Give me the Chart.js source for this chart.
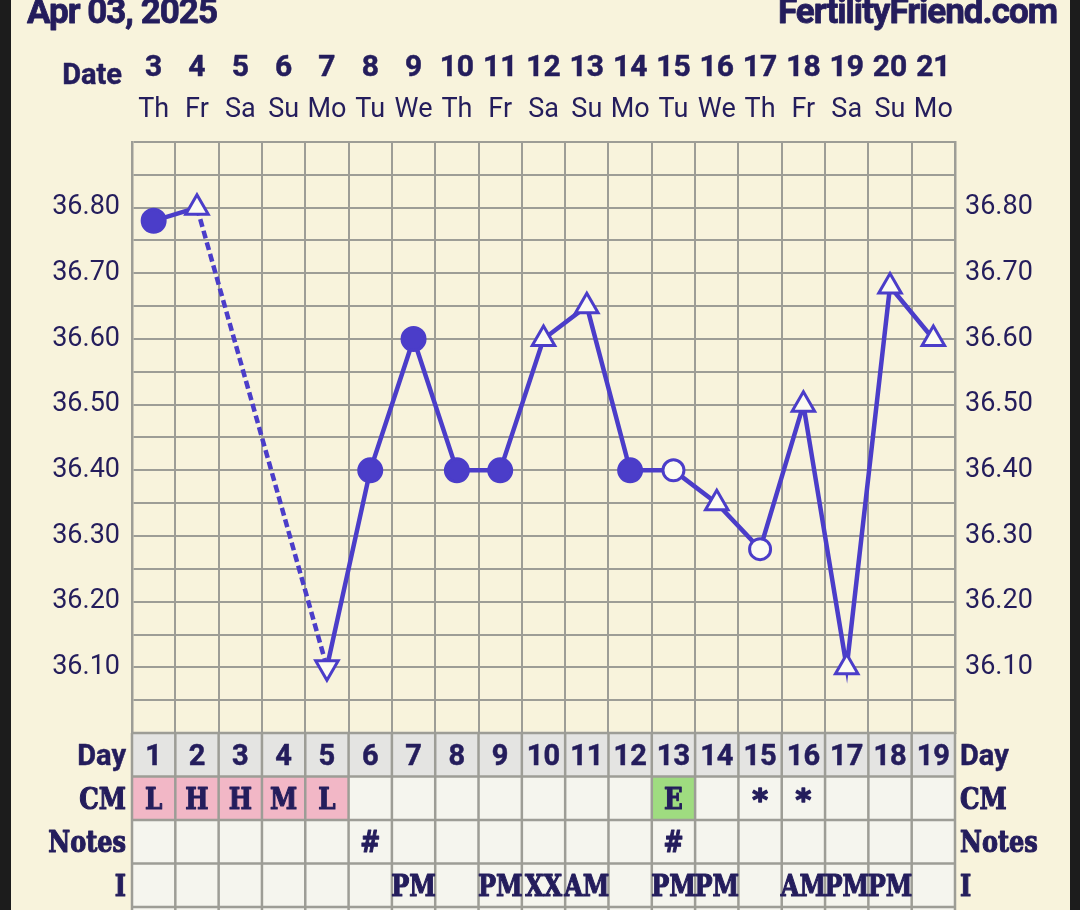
<!DOCTYPE html>
<html>
<head>
<meta charset="utf-8">
<script src="https://cdn.jsdelivr.net/npm/chart.js@4"></script>
<style>
  html, body { margin: 0; padding: 0; background: #1c1c1c; }
  canvas { display: block; }
</style>
</head>
<body>
<canvas id="bbtChart" width="1080" height="910"></canvas>
<script>
// chart data
const cycleDays = ["1", "2", "3", "4", "5", "6", "7", "8", "9", "10", "11", "12", "13", "14", "15", "16", "17", "18", "19"];
const dates = ["3", "4", "5", "6", "7", "8", "9", "10", "11", "12", "13", "14", "15", "16", "17", "18", "19", "20", "21"];
const weekdays = ["Th", "Fr", "Sa", "Su", "Mo", "Tu", "We", "Th", "Fr", "Sa", "Su", "Mo", "Tu", "We", "Th", "Fr", "Sa", "Su", "Mo"];
const temps = [36.78, 36.80, null, null, 36.10, 36.40, 36.60, 36.40, 36.40, 36.60, 36.65, 36.40, 36.40, 36.35, 36.28, 36.50, 36.10, 36.68, 36.60];
// f = normal, o = open circle, u = triangle, d = triangle down
const tempKinds = ["f", "u", "", "", "d", "f", "f", "f", "f", "u", "u", "f", "o", "u", "o", "u", "u", "u", "u"];
const cmCodes = ["L", "H", "H", "M", "L", "", "", "", "", "", "", "", "E", "", "*", "*", "", "", ""];
const notes = ["", "", "", "", "", "#", "", "", "", "", "", "", "#", "", "", "", "", "", ""];
const intercourse = ["", "", "", "", "", "", "PM", "", "PM", "XX", "AM", "", "PM", "PM", "", "AM", "PM", "PM", ""];
const tempTicks = [36.10, 36.20, 36.30, 36.40, 36.50, 36.60, 36.70, 36.80];

const CREAM = "#f8f3dc";
const INK = "#241d5c";
const LINE = "#4b3dc9";
const GRID = "#9d9d96";
const OPEN_FILL = "#fcfbf2";

const pointStyles = tempKinds.map((k) => (k === "u" || k === "d" ? "triangle" : "circle"));
const pointRotations = tempKinds.map((k) => (k === "d" ? 180 : 0));
const pointRadii = tempKinds.map((k) => (k === "u" || k === "d" ? 13 : k === "o" ? 10.5 : k === "f" ? 11.5 : 0));
const pointFills = tempKinds.map((k) => (k === "f" ? LINE : OPEN_FILL));

const drawText = (ctx, str, x, y, font, align, sx = 1, heavy = 0) => {
  ctx.save();
  ctx.font = font;
  ctx.fillStyle = INK;
  ctx.strokeStyle = INK;
  ctx.textAlign = align;
  ctx.textBaseline = "alphabetic";
  ctx.translate(x, y);
  ctx.scale(sx, 1);
  ctx.fillText(str, 0, 0);
  if (heavy) {
    ctx.lineWidth = heavy;
    ctx.lineJoin = "round";
    ctx.strokeText(str, 0, 0);
  }
  ctx.restore();
};

const SLAB = "bold 30px 'DejaVu Serif'";
const SANS_B = "bold 29px Roboto";

const skipped = (ctx, value) => (ctx.p0.skip || ctx.p1.skip ? value : undefined);

const sheet = {
  id: "sheet",
  beforeDraw(chart) {
    const ctx = chart.ctx;
    ctx.save();
    ctx.fillStyle = "#1c1c1c";
    ctx.fillRect(0, 0, chart.width, chart.height);
    ctx.fillStyle = CREAM;
    ctx.fillRect(11, 0, 1059, chart.height);
    ctx.restore();
  },
  afterDraw(chart) {
    const ctx = chart.ctx;
    const area = chart.chartArea;
    const x = chart.scales.x;
    const colW = (area.right - area.left) / cycleDays.length;

    // header
    ctx.save();
    ctx.letterSpacing = "-1px";
    drawText(ctx, "Apr 03, 2025", 27, 23, "bold 35px Roboto", "left", 1, 0.8);
    drawText(ctx, "FertilityFriend.com", 1057, 23, "bold 35px Roboto", "right", 1, 0.8);
    ctx.restore();
    drawText(ctx, "Date", 122, 84, SANS_B, "right", 1, 0.5);
    dates.forEach((d, i) => {
      const cx = x.getPixelForValue(i);
      drawText(ctx, d, cx, 76, "bold 30px Roboto", "center", 1, 0.5);
      drawText(ctx, weekdays[i], cx, 117, "27px Roboto", "center");
    });

    // table below the plot
    const rowH = 43.5;
    const rows = [
      { label: "Day", cells: cycleDays, font: SANS_B, sx: 1 },
      { label: "CM", cells: cmCodes, font: SLAB, sx: 0.82 },
      { label: "Notes", cells: notes, font: SLAB, sx: 0.8 },
      { label: "I", cells: intercourse, font: SLAB, sx: 0.8 },
      { label: "", cells: cycleDays.map(() => ""), font: SLAB, sx: 0.8 },
    ];
    const top = area.bottom;
    rows.forEach((row, r) => {
      const y0 = top + r * rowH;
      row.cells.forEach((c, i) => {
        let fill = "#f5f5ee";
        if (r === 0) fill = "#e4e4e2";
        if (r === 1 && c === "E") fill = "#9fdc80";
        else if (r === 1 && c && c !== "*") fill = "#f2b7c6";
        ctx.fillStyle = fill;
        ctx.fillRect(area.left + i * colW, y0, colW, rowH);
      });
    });
    ctx.save();
    ctx.strokeStyle = GRID;
    ctx.lineWidth = 2.5;
    ctx.beginPath();
    for (let r = 0; r <= rows.length; r++) {
      ctx.moveTo(area.left, top + r * rowH);
      ctx.lineTo(area.right, top + r * rowH);
    }
    for (let i = 0; i <= cycleDays.length; i++) {
      ctx.moveTo(area.left + i * colW, top);
      ctx.lineTo(area.left + i * colW, chart.height);
    }
    ctx.stroke();
    ctx.restore();
    rows.forEach((row, r) => {
      const base = top + r * rowH + 32;
      const heavy = r === 0 ? 0.5 : 1.2;
      if (row.label) {
        drawText(ctx, row.label, 126, base, row.font, "right", row.sx, heavy);
        drawText(ctx, row.label, 960, base, row.font, "left", row.sx, heavy);
      }
      row.cells.forEach((c, i) => {
        if (!c) return;
        const cx = x.getPixelForValue(i);
        if (c === "*") drawText(ctx, c, cx, base + 1, "bold 30px 'DejaVu Sans'", "center", 1, 1.5);
        else drawText(ctx, c, cx, base, row.font, "center", row.sx, heavy);
      });
    });
  },
};

const tickLabel = (value) => {
  const hit = tempTicks.find((t) => Math.abs(t - value) < 0.001);
  return hit === undefined ? "" : hit.toFixed(2);
};

const axisFont = { family: "Roboto", size: 27 };

new Chart(document.getElementById("bbtChart"), {
  type: "line",
  data: {
    labels: cycleDays,
    datasets: [
      {
        data: temps,
        borderColor: LINE,
        borderWidth: 4.5,
        spanGaps: true,
        segment: {
          borderDash: (ctx) => skipped(ctx, [8, 4]),
          borderWidth: (ctx) => skipped(ctx, 4.5),
        },
        pointStyle: pointStyles,
        rotation: pointRotations,
        pointRadius: pointRadii,
        pointBackgroundColor: pointFills,
        pointBorderColor: LINE,
        pointBorderWidth: 3,
      },
    ],
  },
  options: {
    responsive: false,
    devicePixelRatio: 1,
    animation: false,
    events: [],
    layout: { padding: { top: 142, bottom: 177, left: 0, right: 0 } },
    plugins: { legend: { display: false }, tooltip: { enabled: false } },
    scales: {
      x: {
        type: "category",
        offset: true,
        grid: { offset: true, color: GRID, lineWidth: 2, drawTicks: false },
        border: { color: GRID, width: 2 },
        ticks: { display: false },
        afterFit: (scale) => {
          scale.height = 0;
        },
      },
      y: {
        position: "left",
        min: 36.0,
        max: 36.9,
        grid: { color: GRID, lineWidth: 2, drawTicks: false },
        border: { color: GRID, width: 2.5 },
        ticks: { stepSize: 0.05, autoSkip: false, padding: 12, color: INK, font: axisFont, callback: tickLabel },
        afterFit: (scale) => {
          scale.width = 132;
        },
      },
      y2: {
        position: "right",
        min: 36.0,
        max: 36.9,
        grid: { display: false, drawTicks: false },
        border: { color: GRID, width: 2.5 },
        ticks: { stepSize: 0.05, autoSkip: false, padding: 10, color: INK, font: axisFont, callback: tickLabel },
        afterFit: (scale) => {
          scale.width = 125;
        },
      },
    },
  },
  plugins: [sheet],
});
</script>
</body>
</html>
